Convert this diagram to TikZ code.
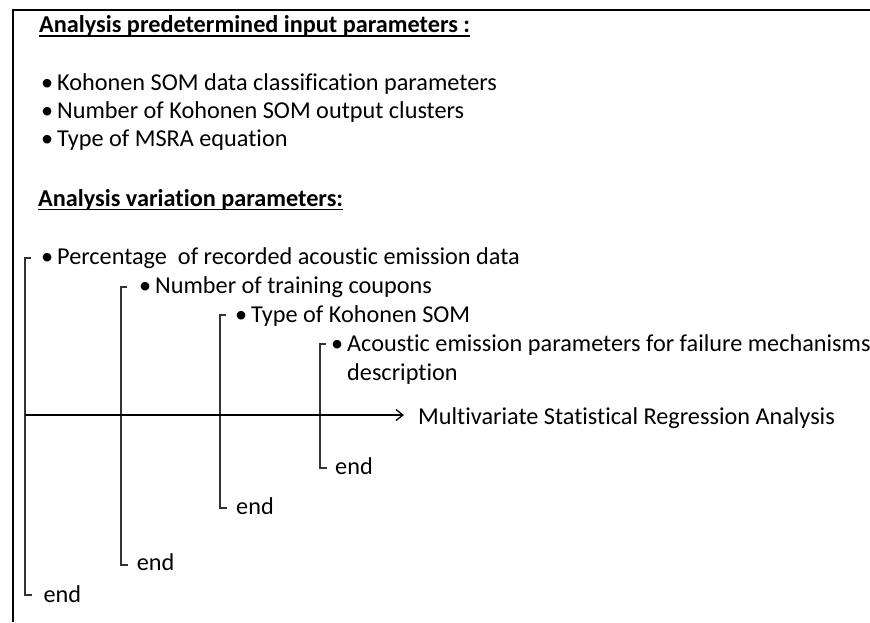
\documentclass[tikz,border=0pt]{standalone}
\usepackage{fontspec}
\setmainfont{Carlito}[Ligatures=NoCommon]
\usetikzlibrary{arrows.meta,calc}

\newcommand\bul{\makebox[16pt][l]{•}}

\tikzset{
  txt/.style={anchor=base west, inner sep=0pt, font=\fontsize{24.25}{28.5}\selectfont, text=black},
  head/.style={txt, font=\fontsize{24.25}{28.5}\selectfont\bfseries},
  uline/.style={line width=1.4pt, black},
  frame/.style={line width=2.4pt, black},
  branch/.style={line width=1.5pt, black!80, line cap=butt, line join=miter},
  flow/.style={line width=1.5pt, black, -{Straight Barb[length=7pt,width=11pt,line width=1.3pt]}},
}

\begin{document}
\begin{tikzpicture}[x=1pt,y=-1pt]
\useasboundingbox (0,0) rectangle (870,622);

% open frame: top and left edges only
\draw[frame] (13,622) -- (13,10) -- (871,10);

% fixed input parameters
\node[head] (h1) at (39,32.7) {Analysis predetermined input parameters :};
\draw[uline] ($(h1.base west)+(0,3.3)$) -- ($(h1.base east)+(0,3.3)$);
\node[txt] (k1) at (41,90.5)  {\bul Kohonen SOM data classification parameters};
\node[txt] (k2) at (41,118.5) {\bul Number of Kohonen SOM output clusters};
\node[txt] (k3) at (41,146.7) {\bul Type of MSRA equation};

% varied parameters
\node[head] (h2) at (38,206) {Analysis variation parameters:};
\draw[uline] ($(h2.base west)+(0,3.3)$) -- ($(h2.base east)+(0,3.3)$);
\node[txt] (v1) at (41,264.3)  {\bul Percentage\ \ of recorded acoustic emission data};
\node[txt] (v2) at (139,293.3) {\bul Number of training coupons};
\node[txt] (v3) at (235,322.7) {\bul Type of Kohonen SOM};
% a two-line node: its base anchor sits on the last line
\node[txt, align=left] (v4) at (331,380) {\bul Acoustic emission parameters for failure mechanisms\\\hspace*{16pt}description};

% loop ends
\node[txt] (e1) at (43.3,602.3) {end};
\node[txt] (e2) at (136.7,570)  {end};
\node[txt] (e3) at (236,514)    {end};
\node[txt] (e4) at (335,474.3)  {end};

% nested loop brackets
\coordinate (t1) at (25,258);  \coordinate (b1) at (25,595);
\coordinate (t2) at (121,287); \coordinate (b2) at (121,565);
\coordinate (t3) at (220,315); \coordinate (b3) at (220,508);
\coordinate (t4) at (320,344); \coordinate (b4) at (320,468);
\foreach \i in {1,...,4}{
  \draw[branch] ($(t\i)+(6,0)$) -- (t\i) -- (b\i) -- ($(b\i)+(7,0)$);
}

% output of the analysis
\node[txt] (msra) at (418,424) {Multivariate Statistical Regression Analysis};
\coordinate (as) at (25,415);
\draw[flow] (as) -- ($(msra.west |- as)+(-14,0)$);
\end{tikzpicture}
\end{document}
